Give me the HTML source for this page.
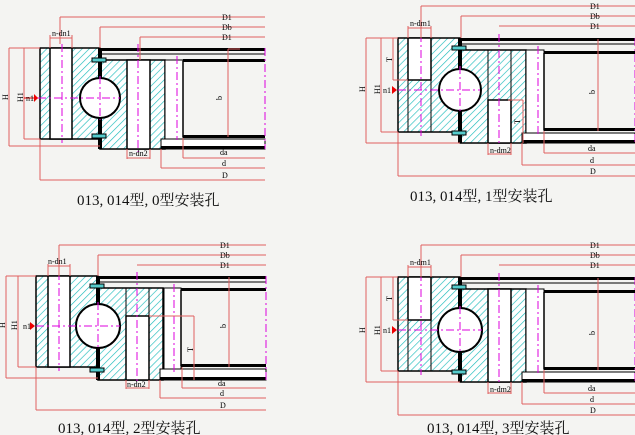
<!DOCTYPE html>
<html><head><meta charset="utf-8"><style>
html,body{margin:0;padding:0;background:#f4f4f2;}
svg{display:block}
text{font-family:"Liberation Serif","Noto Serif CJK SC",serif;}
.s{font-size:8px;fill:#000}
.cap{font-size:15px;fill:#111}
</style></head><body>
<svg width="635" height="435" viewBox="0 0 635 435" xmlns="http://www.w3.org/2000/svg">
<defs>
<pattern id="h" width="5" height="5" patternUnits="userSpaceOnUse" patternTransform="rotate(45)">
<rect width="5" height="5" fill="#fff"/><line x1="0" y1="0" x2="0" y2="5" stroke="#20bcbc" stroke-width="1.3"/>
</pattern>
</defs>
<rect width="635" height="435" fill="#f4f4f2"/>

<!-- ========== Quadrant TL (type 0) origin 40,48 ========== -->
<g transform="translate(40,48)" fill="none">
 <rect x="0" y="0" width="60" height="91" fill="url(#h)" stroke="#000" stroke-width="1.5"/>
 <rect x="10" y="0" width="22" height="91" fill="#fff" stroke="#000" stroke-width="1.5"/>
 <rect x="60" y="12" width="65" height="89" fill="url(#h)" stroke="#000" stroke-width="1.5"/>
 <rect x="87" y="12" width="23" height="89" fill="#fff" stroke="#000" stroke-width="1.5"/>
 <rect x="125" y="12" width="18" height="79" fill="#fff" stroke="#000" stroke-width="1"/>
 <rect x="58" y="0" width="4" height="101" fill="#000"/>
 <circle cx="60" cy="50" r="20" fill="#fff" stroke="#000" stroke-width="2"/>
 <rect x="52" y="10" width="14" height="4" fill="#5cc" stroke="#000"/>
 <rect x="52" y="86" width="14" height="4" fill="#5cc" stroke="#000"/>
 <rect x="60" y="0" width="165" height="3" fill="#000"/>
 <line x1="60" y1="6" x2="225" y2="6" stroke="#000"/>
 <rect x="143" y="11" width="82" height="3" fill="#000"/>
 <line x1="143" y1="13" x2="143" y2="89" stroke="#000" stroke-width="1.5"/>
 <rect x="143" y="87" width="82" height="3" fill="#000"/>
 <rect x="121" y="91" width="104" height="10" fill="#fff" stroke="#000"/>
 <rect x="121" y="98" width="104" height="3" fill="#000"/>
 <g stroke="#d0d" stroke-dasharray="8,3,2,3">
  <line x1="22" y1="-4" x2="22" y2="95"/><line x1="98" y1="-4" x2="98" y2="104"/>
  <line x1="137" y1="8" x2="137" y2="92"/><line x1="225" y1="0" x2="225" y2="101"/>
  <line x1="-2" y1="50" x2="80" y2="50"/><line x1="60" y1="28" x2="60" y2="72"/>
 </g>
 <g stroke="#e06060" stroke-width="1">
  <line x1="20" y1="-31" x2="225" y2="-31"/><line x1="20" y1="-31" x2="20" y2="-4"/>
  <line x1="60" y1="-21" x2="225" y2="-21"/><line x1="60" y1="-21" x2="60" y2="0"/>
  <line x1="100" y1="-11" x2="225" y2="-11"/><line x1="100" y1="-11" x2="100" y2="12"/>
  <line x1="10" y1="-13" x2="10" y2="0"/><line x1="32" y1="-13" x2="32" y2="0"/>
  <line x1="10" y1="-10" x2="32" y2="-10"/>
  <line x1="-31" y1="0" x2="0" y2="0"/><line x1="-31" y1="98" x2="60" y2="98"/><line x1="-31" y1="0" x2="-31" y2="98"/>
  <line x1="-16" y1="0" x2="-16" y2="91"/><line x1="-16" y1="91" x2="0" y2="91"/>
  <line x1="0" y1="91" x2="0" y2="132"/><line x1="0" y1="132" x2="225" y2="132"/>
  <line x1="121" y1="101" x2="121" y2="120"/><line x1="121" y1="120" x2="225" y2="120"/>
  <line x1="143" y1="90" x2="143" y2="110"/><line x1="143" y1="110" x2="225" y2="110"/>
  <line x1="87" y1="101" x2="87" y2="111"/><line x1="110" y1="101" x2="110" y2="111"/><line x1="87" y1="110" x2="110" y2="110"/>
  <line x1="188" y1="1" x2="188" y2="89"/><line x1="188" y1="1" x2="200" y2="1"/>
  <line x1="-16" y1="50" x2="-2" y2="50" stroke="#e00"/>
 </g>
 <polygon points="-6,46 -2,50 -6,54" fill="#e00"/>
 <text class="s" x="12" y="-12">n-dn1</text><text class="s" x="89" y="108">n-dn2</text>
 <text class="s" x="182" y="-28">D1</text><text class="s" x="182" y="-18">Db</text><text class="s" x="182" y="-8">D1</text>
 <text class="s" x="180" y="107">da</text><text class="s" x="182" y="118">d</text><text class="s" x="182" y="130">D</text>
 <text class="s" x="-14" y="53">n1</text>
 <text class="s" transform="translate(-32,52) rotate(-90)">H</text>
 <text class="s" transform="translate(-17,54) rotate(-90)">H1</text>
 <text class="s" transform="translate(182,52) rotate(-90)">b</text>
</g>
<text class="cap" x="77" y="205">013, 014型, 0型安装孔</text>

<!-- ========== Quadrant TR (type 1) origin 398,38 ========== -->
<g transform="translate(398,38)" fill="none">
 <rect x="0" y="0" width="62" height="94" fill="url(#h)" stroke="#000" stroke-width="1.5"/>
 <rect x="10" y="0" width="23" height="42" fill="#fff" stroke="#000" stroke-width="1.5"/>
 <line x1="10" y1="42" x2="10" y2="94" stroke="#000"/><line x1="33" y1="42" x2="33" y2="94" stroke="#000"/>
 <rect x="62" y="12" width="66" height="93" fill="url(#h)" stroke="#000" stroke-width="1.5"/>
 <rect x="90" y="62" width="23" height="43" fill="#fff" stroke="#000" stroke-width="1.5"/>
 <line x1="90" y1="12" x2="90" y2="62" stroke="#000"/><line x1="113" y1="12" x2="113" y2="62" stroke="#000"/>
 <rect x="128" y="12" width="18" height="83" fill="#fff" stroke="#000" stroke-width="1"/>
 <rect x="60" y="0" width="4" height="105" fill="#000"/>
 <circle cx="62" cy="52" r="21" fill="#fff" stroke="#000" stroke-width="2"/>
 <rect x="54" y="8" width="14" height="4" fill="#5cc" stroke="#000"/>
 <rect x="54" y="93" width="14" height="4" fill="#5cc" stroke="#000"/>
 <rect x="62" y="0" width="175" height="3" fill="#000"/>
 <line x1="62" y1="6" x2="237" y2="6" stroke="#000"/>
 <rect x="146" y="13" width="91" height="3" fill="#000"/>
 <line x1="146" y1="15" x2="146" y2="92" stroke="#000" stroke-width="1.5"/>
 <rect x="146" y="90" width="91" height="3" fill="#000"/>
 <rect x="124" y="95" width="113" height="10" fill="#fff" stroke="#000"/>
 <rect x="124" y="102" width="113" height="3" fill="#000"/>
 <g stroke="#d0d" stroke-dasharray="8,3,2,3">
  <line x1="23" y1="-4" x2="23" y2="98"/><line x1="101" y1="-4" x2="101" y2="108"/>
  <line x1="140" y1="8" x2="140" y2="98"/><line x1="237" y1="0" x2="237" y2="105"/>
  <line x1="0" y1="52" x2="82" y2="52"/><line x1="62" y1="28" x2="62" y2="76"/>
 </g>
 <g stroke="#e06060">
  <line x1="23" y1="-32" x2="237" y2="-32"/><line x1="23" y1="-32" x2="23" y2="0"/>
  <line x1="63" y1="-22" x2="237" y2="-22"/><line x1="63" y1="-22" x2="63" y2="0"/>
  <line x1="101" y1="-12" x2="237" y2="-12"/>
  <line x1="10" y1="-12" x2="10" y2="0"/><line x1="33" y1="-12" x2="33" y2="0"/><line x1="10" y1="-10" x2="33" y2="-10"/>
  <line x1="-32" y1="0" x2="0" y2="0"/><line x1="-32" y1="105" x2="62" y2="105"/><line x1="-32" y1="0" x2="-32" y2="105"/>
  <line x1="-17" y1="0" x2="-17" y2="94"/><line x1="-17" y1="94" x2="0" y2="94"/>
  <line x1="-5" y1="0" x2="-5" y2="42"/><line x1="-5" y1="42" x2="10" y2="42"/>
  <line x1="0" y1="94" x2="0" y2="138"/><line x1="0" y1="138" x2="237" y2="138"/>
  <line x1="124" y1="105" x2="124" y2="127"/><line x1="124" y1="127" x2="237" y2="127"/>
  <line x1="146" y1="93" x2="146" y2="115"/><line x1="146" y1="115" x2="237" y2="115"/>
  <line x1="90" y1="105" x2="90" y2="117"/><line x1="113" y1="105" x2="113" y2="117"/><line x1="90" y1="116" x2="113" y2="116"/>
  <line x1="110" y1="62" x2="125" y2="62"/><line x1="125" y1="62" x2="125" y2="105"/>
  <line x1="200" y1="1" x2="200" y2="93"/>
 </g>
 <polygon points="-6,48 -1,52 -6,56" fill="#e00"/>
 <text class="s" x="12" y="-12">n-dm1</text><text class="s" x="92" y="115">n-dm2</text>
 <text class="s" x="192" y="-29">D1</text><text class="s" x="192" y="-19">Db</text><text class="s" x="192" y="-9">D1</text>
 <text class="s" x="190" y="113">da</text><text class="s" x="192" y="125">d</text><text class="s" x="192" y="136">D</text>
 <text class="s" x="-15" y="55">n1</text>
 <text class="s" transform="translate(-33,54) rotate(-90)">H</text>
 <text class="s" transform="translate(-18,56) rotate(-90)">H1</text>
 <text class="s" transform="translate(-6,24) rotate(-90)">T</text>
 <text class="s" transform="translate(122,86) rotate(-90)">T</text>
 <text class="s" transform="translate(197,56) rotate(-90)">b</text>
</g>
<text class="cap" x="410" y="201">013, 014型, 1型安装孔</text>

<!-- ========== Quadrant BL (type 2) origin 36,276 ========== -->
<g transform="translate(36,276)" fill="none">
 <rect x="0" y="0" width="62" height="91" fill="url(#h)" stroke="#000" stroke-width="1.5"/>
 <rect x="12" y="0" width="22" height="91" fill="#fff" stroke="#000" stroke-width="1.5"/>
 <rect x="62" y="12" width="65" height="92" fill="url(#h)" stroke="#000" stroke-width="1.5"/>
 <rect x="90" y="40" width="23" height="64" fill="#fff" stroke="#000" stroke-width="1.5"/>
 <line x1="90" y1="12" x2="90" y2="40" stroke="#000"/><line x1="113" y1="12" x2="113" y2="40" stroke="#000"/>
 <rect x="128" y="12" width="17" height="81" fill="#fff" stroke="#000"/>
 <rect x="60" y="0" width="4" height="104" fill="#000"/>
 <circle cx="62" cy="50" r="22" fill="#fff" stroke="#000" stroke-width="2"/>
 <rect x="54" y="8" width="14" height="4" fill="#5cc" stroke="#000"/>
 <rect x="54" y="92" width="14" height="4" fill="#5cc" stroke="#000"/>
 <rect x="62" y="0" width="168" height="3" fill="#000"/>
 <line x1="62" y1="6" x2="230" y2="6" stroke="#000"/>
 <rect x="145" y="12" width="85" height="3" fill="#000"/>
 <line x1="145" y1="14" x2="145" y2="90" stroke="#000" stroke-width="1.5"/>
 <rect x="145" y="88" width="85" height="3" fill="#000"/>
 <rect x="124" y="93" width="106" height="11" fill="#fff" stroke="#000"/>
 <rect x="124" y="101" width="106" height="3" fill="#000"/>
 <g stroke="#d0d" stroke-dasharray="8,3,2,3">
  <line x1="23" y1="-4" x2="23" y2="95"/><line x1="101" y1="-4" x2="101" y2="107"/>
  <line x1="138" y1="8" x2="138" y2="96"/><line x1="230" y1="0" x2="230" y2="104"/>
  <line x1="0" y1="50" x2="84" y2="50"/><line x1="62" y1="26" x2="62" y2="74"/>
 </g>
 <g stroke="#e06060">
  <line x1="23" y1="-31" x2="230" y2="-31"/><line x1="23" y1="-31" x2="23" y2="0"/>
  <line x1="62" y1="-21" x2="230" y2="-21"/><line x1="62" y1="-21" x2="62" y2="0"/>
  <line x1="101" y1="-11" x2="230" y2="-11"/>
  <line x1="12" y1="-12" x2="12" y2="0"/><line x1="34" y1="-12" x2="34" y2="0"/><line x1="12" y1="-10" x2="34" y2="-10"/>
  <line x1="-30" y1="0" x2="0" y2="0"/><line x1="-30" y1="102" x2="62" y2="102"/><line x1="-30" y1="0" x2="-30" y2="102"/>
  <line x1="-18" y1="0" x2="-18" y2="91"/><line x1="-18" y1="91" x2="0" y2="91"/>
  <line x1="0" y1="91" x2="0" y2="134"/><line x1="0" y1="134" x2="230" y2="134"/>
  <line x1="124" y1="104" x2="124" y2="122"/><line x1="124" y1="122" x2="230" y2="122"/>
  <line x1="146" y1="91" x2="146" y2="112"/><line x1="146" y1="112" x2="230" y2="112"/>
  <line x1="90" y1="104" x2="90" y2="113"/><line x1="113" y1="104" x2="113" y2="113"/><line x1="90" y1="112" x2="113" y2="112"/>
  <line x1="113" y1="40" x2="158" y2="40"/><line x1="158" y1="40" x2="158" y2="104"/>
  <line x1="193" y1="1" x2="193" y2="91"/>
 </g>
 <polygon points="-6,46 -1,50 -6,54" fill="#e00"/>
 <text class="s" x="12" y="-12">n-dn1</text><text class="s" x="91" y="111">n-dn2</text>
 <text class="s" x="184" y="-28">D1</text><text class="s" x="184" y="-18">Db</text><text class="s" x="184" y="-8">D1</text>
 <text class="s" x="182" y="110">da</text><text class="s" x="184" y="120">d</text><text class="s" x="184" y="132">D</text>
 <text class="s" x="-13" y="53">n1</text>
 <text class="s" transform="translate(-31,52) rotate(-90)">H</text>
 <text class="s" transform="translate(-19,54) rotate(-90)">H1</text>
 <text class="s" transform="translate(157,76) rotate(-90)">T</text>
 <text class="s" transform="translate(190,52) rotate(-90)">b</text>
</g>
<text class="cap" x="58" y="433">013, 014型, 2型安装孔</text>

<!-- ========== Quadrant BR (type 3) origin 398,277 ========== -->
<g transform="translate(398,277)" fill="none">
 <rect x="0" y="0" width="62" height="94" fill="url(#h)" stroke="#000" stroke-width="1.5"/>
 <rect x="10" y="0" width="23" height="43" fill="#fff" stroke="#000" stroke-width="1.5"/>
 <line x1="10" y1="43" x2="10" y2="94" stroke="#000"/><line x1="33" y1="43" x2="33" y2="94" stroke="#000"/>
 <rect x="62" y="12" width="66" height="93" fill="url(#h)" stroke="#000" stroke-width="1.5"/>
 <rect x="90" y="12" width="23" height="93" fill="#fff" stroke="#000" stroke-width="1.5"/>
 <rect x="128" y="12" width="18" height="83" fill="#fff" stroke="#000"/>
 <rect x="60" y="0" width="4" height="105" fill="#000"/>
 <circle cx="62" cy="53" r="22" fill="#fff" stroke="#000" stroke-width="2"/>
 <rect x="54" y="8" width="14" height="4" fill="#5cc" stroke="#000"/>
 <rect x="54" y="93" width="14" height="4" fill="#5cc" stroke="#000"/>
 <rect x="62" y="0" width="175" height="3" fill="#000"/>
 <line x1="62" y1="6" x2="237" y2="6" stroke="#000"/>
 <rect x="146" y="13" width="91" height="3" fill="#000"/>
 <line x1="146" y1="15" x2="146" y2="92" stroke="#000" stroke-width="1.5"/>
 <rect x="146" y="90" width="91" height="3" fill="#000"/>
 <rect x="124" y="95" width="113" height="10" fill="#fff" stroke="#000"/>
 <rect x="124" y="102" width="113" height="3" fill="#000"/>
 <g stroke="#d0d" stroke-dasharray="8,3,2,3">
  <line x1="23" y1="-4" x2="23" y2="98"/><line x1="101" y1="-4" x2="101" y2="108"/>
  <line x1="140" y1="8" x2="140" y2="98"/><line x1="237" y1="0" x2="237" y2="105"/>
  <line x1="0" y1="53" x2="84" y2="53"/><line x1="62" y1="29" x2="62" y2="77"/>
 </g>
 <g stroke="#e06060">
  <line x1="23" y1="-32" x2="237" y2="-32"/><line x1="23" y1="-32" x2="23" y2="0"/>
  <line x1="63" y1="-22" x2="237" y2="-22"/><line x1="63" y1="-22" x2="63" y2="0"/>
  <line x1="101" y1="-12" x2="237" y2="-12"/>
  <line x1="10" y1="-12" x2="10" y2="0"/><line x1="33" y1="-12" x2="33" y2="0"/><line x1="10" y1="-10" x2="33" y2="-10"/>
  <line x1="-32" y1="0" x2="0" y2="0"/><line x1="-32" y1="105" x2="62" y2="105"/><line x1="-32" y1="0" x2="-32" y2="105"/>
  <line x1="-17" y1="0" x2="-17" y2="94"/><line x1="-17" y1="94" x2="0" y2="94"/>
  <line x1="-5" y1="0" x2="-5" y2="43"/><line x1="-5" y1="43" x2="10" y2="43"/>
  <line x1="0" y1="94" x2="0" y2="138"/><line x1="0" y1="138" x2="237" y2="138"/>
  <line x1="124" y1="105" x2="124" y2="127"/><line x1="124" y1="127" x2="237" y2="127"/>
  <line x1="146" y1="93" x2="146" y2="116"/><line x1="146" y1="116" x2="237" y2="116"/>
  <line x1="90" y1="105" x2="90" y2="117"/><line x1="113" y1="105" x2="113" y2="117"/><line x1="90" y1="116" x2="113" y2="116"/>
  <line x1="200" y1="1" x2="200" y2="93"/>
 </g>
 <polygon points="-6,49 -1,53 -6,57" fill="#e00"/>
 <text class="s" x="12" y="-12">n-dm1</text><text class="s" x="92" y="115">n-dm2</text>
 <text class="s" x="192" y="-29">D1</text><text class="s" x="192" y="-19">Db</text><text class="s" x="192" y="-9">D1</text>
 <text class="s" x="190" y="114">da</text><text class="s" x="192" y="125">d</text><text class="s" x="192" y="136">D</text>
 <text class="s" x="-15" y="56">n1</text>
 <text class="s" transform="translate(-33,56) rotate(-90)">H</text>
 <text class="s" transform="translate(-18,58) rotate(-90)">H1</text>
 <text class="s" transform="translate(-6,24) rotate(-90)">T</text>
 <text class="s" transform="translate(197,58) rotate(-90)">b</text>
</g>
<text class="cap" x="427" y="433">013, 014型, 3型安装孔</text>
</svg>
</body></html>
